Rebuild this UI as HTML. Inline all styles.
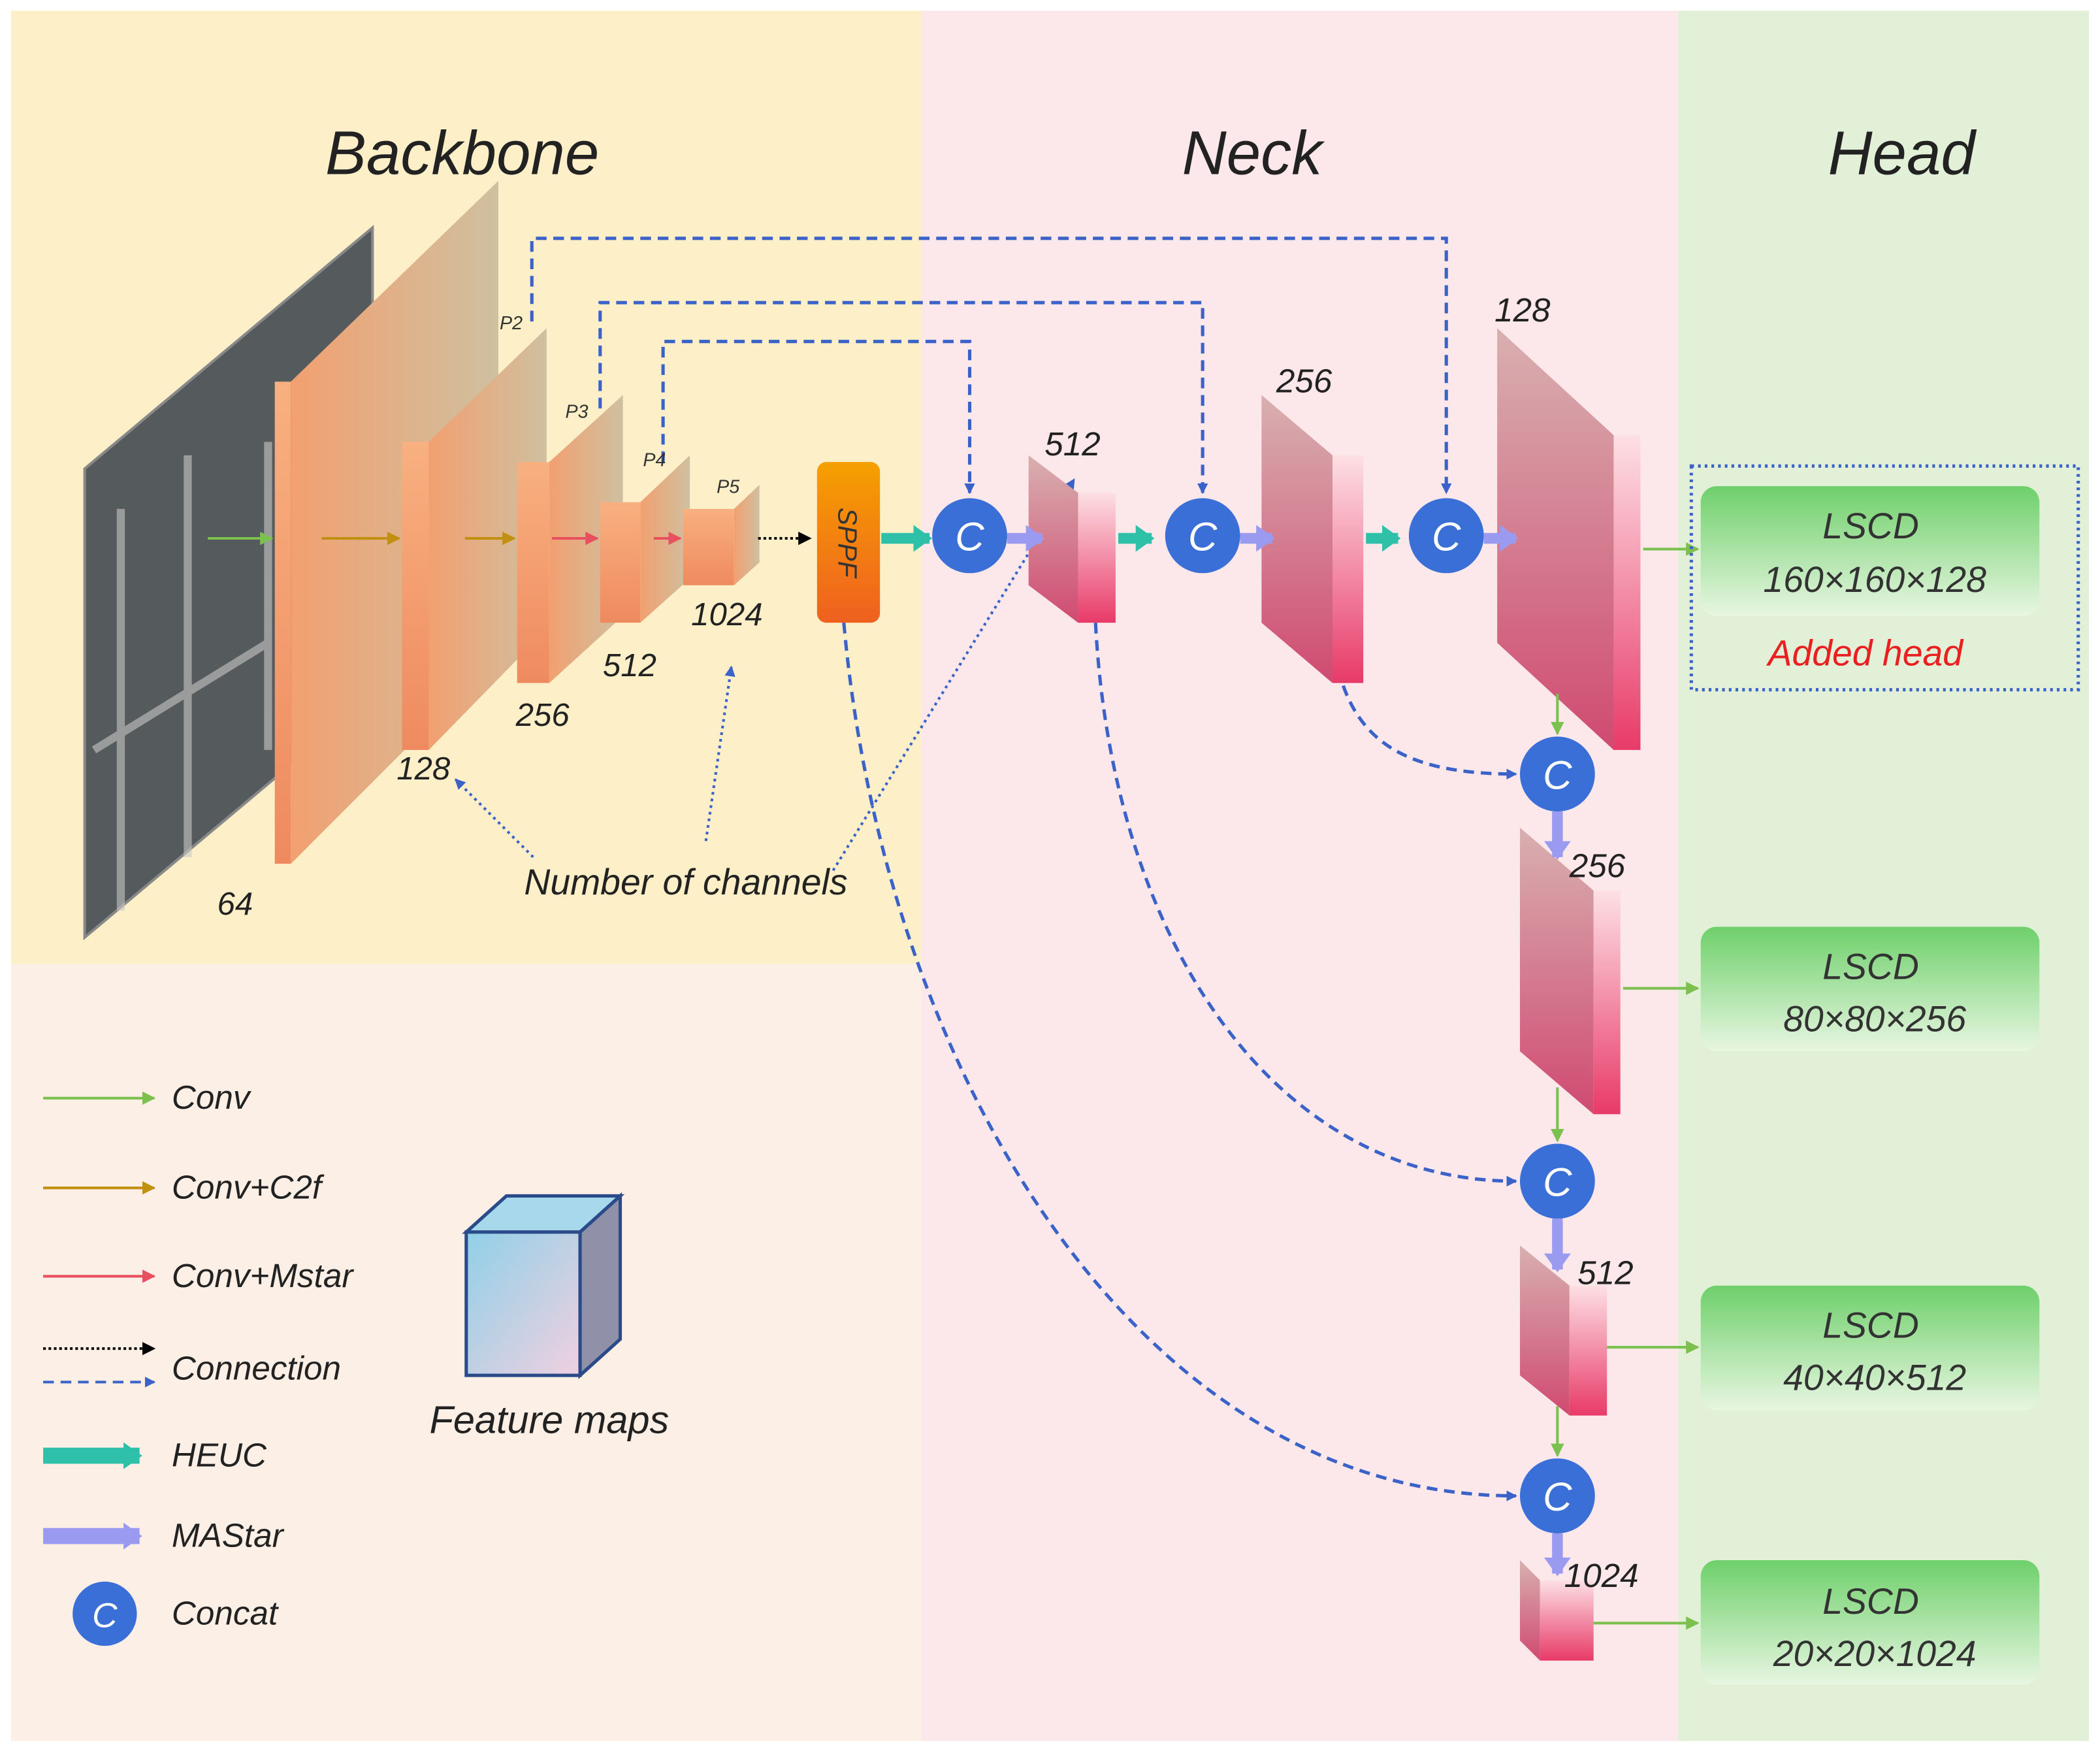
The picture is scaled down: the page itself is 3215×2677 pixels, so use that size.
<!DOCTYPE html>
<html><head><meta charset="utf-8"><style>html,body{margin:0;padding:0;background:#fff}svg{display:block}text{font-family:"Liberation Sans",sans-serif;font-style:italic}</style></head><body>
<svg width="3215" height="2677" viewBox="0 0 1568 1306" xmlns="http://www.w3.org/2000/svg">
<defs>
<linearGradient id="bb" x1="0" y1="0" x2="1" y2="0"><stop offset="0" stop-color="#f2a070"/><stop offset="1" stop-color="#cfc0a0"/></linearGradient>
<linearGradient id="bf" x1="0" y1="0" x2="0" y2="1"><stop offset="0" stop-color="#f8b080"/><stop offset="1" stop-color="#ef8a60"/></linearGradient>
<linearGradient id="nk" x1="0" y1="0" x2="0" y2="1"><stop offset="0" stop-color="#d8b0b0"/><stop offset="1" stop-color="#d04a70"/></linearGradient>
<linearGradient id="nf" x1="0" y1="0" x2="0" y2="1"><stop offset="0" stop-color="#fde0e4"/><stop offset="1" stop-color="#e83a68"/></linearGradient>
<linearGradient id="sp" x1="0" y1="0" x2="0" y2="1"><stop offset="0" stop-color="#f5a000"/><stop offset="1" stop-color="#f06020"/></linearGradient>
<linearGradient id="ls" x1="0" y1="0" x2="0" y2="1"><stop offset="0" stop-color="#6ed06a"/><stop offset="1" stop-color="#e8f6e2"/></linearGradient>
<linearGradient id="cb" x1="0" y1="0" x2="1" y2="1"><stop offset="0" stop-color="#90d0e8"/><stop offset="1" stop-color="#f0d0e0"/></linearGradient>
<marker id="ab" markerWidth="8" markerHeight="8" refX="7" refY="4" orient="auto" markerUnits="userSpaceOnUse"><path d="M0,0 L8,4 L0,8z" fill="#3a62c8"/></marker>
<marker id="ag" markerWidth="10" markerHeight="10" refX="9" refY="5" orient="auto" markerUnits="userSpaceOnUse"><path d="M0,0 L10,5 L0,10z" fill="#7cc050"/></marker>
<marker id="ao" markerWidth="10" markerHeight="10" refX="9" refY="5" orient="auto" markerUnits="userSpaceOnUse"><path d="M0,0 L10,5 L0,10z" fill="#c09010"/></marker>
<marker id="ar" markerWidth="10" markerHeight="10" refX="9" refY="5" orient="auto" markerUnits="userSpaceOnUse"><path d="M0,0 L10,5 L0,10z" fill="#e85060"/></marker>
<marker id="ak" markerWidth="10" markerHeight="10" refX="9" refY="5" orient="auto" markerUnits="userSpaceOnUse"><path d="M0,0 L10,5 L0,10z" fill="#000"/></marker>
<marker id="at" markerWidth="14" markerHeight="20" refX="12" refY="10" orient="auto" markerUnits="userSpaceOnUse"><path d="M0,0 L14,10 L0,20z" fill="#2ec0a8"/></marker>
<marker id="ap" markerWidth="14" markerHeight="20" refX="12" refY="10" orient="auto" markerUnits="userSpaceOnUse"><path d="M0,0 L14,10 L0,20z" fill="#9a9af0"/></marker>
</defs>
<rect width="1568" height="1306" fill="#fff"/>
<rect x="8" y="8" width="680" height="712" fill="#fdf0c8"/>
<rect x="8" y="720" width="680" height="580" fill="#fcefe6"/>
<rect x="688" y="8" width="565" height="1292" fill="#fce8ea"/>
<rect x="1253" y="8" width="307" height="1292" fill="#e3f0d8"/>
<text x="345" y="130" font-size="46" text-anchor="middle" fill="#222">Backbone</text>
<text x="935" y="130" font-size="46" text-anchor="middle" fill="#222">Neck</text>
<text x="1420" y="130" font-size="46" text-anchor="middle" fill="#222">Head</text>
<!-- dashed top lines -->
<g fill="none" stroke="#3a62c8" stroke-width="2.5" stroke-dasharray="8,5">
<path d="M397,240 V178 H1080 V368" marker-end="url(#ab)"/>
<path d="M448,305 V226 H898 V368" marker-end="url(#ab)"/>
<path d="M495,345 V255 H724 V368" marker-end="url(#ab)"/>
<path d="M1003,512 C1020,560 1060,578 1132,578" marker-end="url(#ab)"/>
<path d="M818,465 C830,700 950,882 1132,882" marker-end="url(#ab)"/>
<path d="M630,465 C660,800 850,1117 1132,1117" marker-end="url(#ab)"/>
</g>
<!-- image -->
<polygon points="63,350 278,170 278,520 63,700" fill="#555a5c"/>
<polygon points="63,350 278,170 278,520 63,700" fill="none" stroke="#888" stroke-width="2"/>
<g stroke="#c8c8c8" stroke-width="6" opacity="0.6"><line x1="90" y1="380" x2="90" y2="680"/><line x1="140" y1="340" x2="140" y2="640"/><line x1="70" y1="560" x2="200" y2="480"/><line x1="200" y1="330" x2="200" y2="560"/></g>
<!-- backbone maps -->
<polygon points="217,285 372,135 372,490 217,645" fill="url(#bb)"/><rect x="205" y="285" width="12" height="360" fill="url(#bf)"/>
<polygon points="320,330 408,245 408,470 320,560" fill="url(#bb)"/><rect x="300" y="330" width="20" height="230" fill="url(#bf)"/>
<polygon points="410,345 465,295 465,460 410,510" fill="url(#bb)"/><rect x="386" y="345" width="24" height="165" fill="url(#bf)"/>
<polygon points="478,375 515,340 515,432 478,465" fill="url(#bb)"/><rect x="448" y="375" width="30" height="90" fill="url(#bf)"/>
<polygon points="548,380 567,362 567,420 548,437" fill="url(#bb)"/><rect x="510" y="380" width="38" height="57" fill="url(#bf)"/>
<g font-size="14" fill="#333"><text x="373" y="246">P2</text><text x="422" y="312">P3</text><text x="480" y="348">P4</text><text x="535" y="368">P5</text></g>
<g stroke-width="2" fill="none">
<line x1="155" y1="402" x2="203" y2="402" stroke="#7cc050" marker-end="url(#ag)"/>
<line x1="240" y1="402" x2="298" y2="402" stroke="#c09010" marker-end="url(#ao)"/>
<line x1="347" y1="402" x2="384" y2="402" stroke="#c09010" marker-end="url(#ao)"/>
<line x1="412" y1="402" x2="446" y2="402" stroke="#e85060" marker-end="url(#ar)"/>
<line x1="488" y1="402" x2="508" y2="402" stroke="#e85060" marker-end="url(#ar)"/>
<line x1="566" y1="402" x2="605" y2="402" stroke="#000" stroke-dasharray="2,2" marker-end="url(#ak)"/>
</g>
<rect x="610" y="345" width="47" height="120" rx="7" fill="url(#sp)"/>
<text x="633" y="405" font-size="20" fill="#333" text-anchor="middle" transform="rotate(90 633 405)" dy="7">SPPF</text>
<g font-size="24" fill="#222"><text x="162" y="683">64</text><text x="296" y="582">128</text><text x="385" y="542">256</text><text x="450" y="505">512</text><text x="516" y="467">1024</text></g>
<g fill="none" stroke="#3a62c8" stroke-width="2" stroke-dasharray="2,3">
<path d="M398,640 L340,582" marker-end="url(#ab)"/>
<path d="M527,628 L546,498" marker-end="url(#ab)"/>
<path d="M622,650 L802,358" marker-end="url(#ab)"/>
</g>
<text x="512" y="668" font-size="27" text-anchor="middle" fill="#222">Number of channels</text>
<!-- neck -->
<line x1="658" y1="402" x2="694" y2="402" stroke="#2ec0a8" stroke-width="8" marker-end="url(#at)"/>
<polygon points="768,340 805,368 805,465 768,437" fill="url(#nk)"/><rect x="805" y="368" width="28" height="97" fill="url(#nf)"/>
<polygon points="942,295 995,340 995,510 942,465" fill="url(#nk)"/><rect x="995" y="340" width="23" height="170" fill="url(#nf)"/>
<polygon points="1118,245 1205,325 1205,560 1118,480" fill="url(#nk)"/><rect x="1205" y="325" width="20" height="235" fill="url(#nf)"/>
<polygon points="1135,618 1190,665 1190,832 1135,785" fill="url(#nk)"/><rect x="1190" y="665" width="20" height="167" fill="url(#nf)"/>
<polygon points="1135,930 1172,960 1172,1057 1135,1027" fill="url(#nk)"/><rect x="1172" y="960" width="28" height="97" fill="url(#nf)"/>
<polygon points="1135,1165 1150,1180 1150,1240 1135,1225" fill="url(#nk)"/><rect x="1150" y="1180" width="40" height="60" fill="url(#nf)"/>
<g stroke-width="8">
<line x1="752" y1="402" x2="778" y2="402" stroke="#9a9af0" marker-end="url(#ap)"/>
<line x1="835" y1="402" x2="860" y2="402" stroke="#2ec0a8" marker-end="url(#at)"/>
<line x1="926" y1="402" x2="950" y2="402" stroke="#9a9af0" marker-end="url(#ap)"/>
<line x1="1020" y1="402" x2="1044" y2="402" stroke="#2ec0a8" marker-end="url(#at)"/>
<line x1="1108" y1="402" x2="1132" y2="402" stroke="#9a9af0" marker-end="url(#ap)"/>
<line x1="1163" y1="606" x2="1163" y2="640" stroke="#9a9af0" marker-end="url(#ap)"/>
<line x1="1163" y1="910" x2="1163" y2="948" stroke="#9a9af0" marker-end="url(#ap)"/>
<line x1="1163" y1="1145" x2="1163" y2="1175" stroke="#9a9af0" marker-end="url(#ap)"/>
</g>
<g stroke="#7cc050" stroke-width="2">
<line x1="1163" y1="518" x2="1163" y2="548" marker-end="url(#ag)"/>
<line x1="1163" y1="812" x2="1163" y2="852" marker-end="url(#ag)"/>
<line x1="1163" y1="1050" x2="1163" y2="1087" marker-end="url(#ag)"/>
<line x1="1227" y1="410" x2="1268" y2="410" marker-end="url(#ag)"/>
<line x1="1212" y1="738" x2="1268" y2="738" marker-end="url(#ag)"/>
<line x1="1200" y1="1006" x2="1268" y2="1006" marker-end="url(#ag)"/>
<line x1="1190" y1="1212" x2="1268" y2="1212" marker-end="url(#ag)"/>
</g>
<g fill="#3a6fd8"><circle cx="724" cy="400" r="28"/><circle cx="898" cy="400" r="28"/><circle cx="1080" cy="400" r="28"/><circle cx="1163" cy="578" r="28"/><circle cx="1163" cy="882" r="28"/><circle cx="1163" cy="1117" r="28"/></g>
<g font-size="30" fill="#fff" text-anchor="middle"><text x="724" y="411">C</text><text x="898" y="411">C</text><text x="1080" y="411">C</text><text x="1163" y="589">C</text><text x="1163" y="893">C</text><text x="1163" y="1128">C</text></g>
<g font-size="25" fill="#222"><text x="780" y="340">512</text><text x="953" y="293">256</text><text x="1116" y="240">128</text><text x="1172" y="655">256</text><text x="1178" y="959">512</text><text x="1168" y="1185">1024</text></g>
<!-- head -->
<rect x="1263" y="348" width="289" height="167" fill="none" stroke="#3a62c8" stroke-width="2.5" stroke-dasharray="2,3"/>
<g fill="url(#ls)"><rect x="1270" y="363" width="253" height="97" rx="12"/><rect x="1270" y="692" width="253" height="93" rx="12"/><rect x="1270" y="960" width="253" height="93" rx="12"/><rect x="1270" y="1165" width="253" height="93" rx="12"/></g>
<g font-size="27" fill="#333" text-anchor="middle">
<text x="1397" y="402">LSCD</text><text x="1400" y="442">160×160×128</text>
<text x="1397" y="731">LSCD</text><text x="1400" y="770">80×80×256</text>
<text x="1397" y="999">LSCD</text><text x="1400" y="1038">40×40×512</text>
<text x="1397" y="1205">LSCD</text><text x="1400" y="1244">20×20×1024</text>
<text x="1393" y="497" fill="#e82020">Added head</text>
</g>
<!-- legend -->
<g stroke-width="2">
<line x1="32" y1="820" x2="115" y2="820" stroke="#7cc050" marker-end="url(#ag)"/>
<line x1="32" y1="887" x2="115" y2="887" stroke="#c09010" marker-end="url(#ao)"/>
<line x1="32" y1="953" x2="115" y2="953" stroke="#e85060" marker-end="url(#ar)"/>
<line x1="32" y1="1007" x2="115" y2="1007" stroke="#000" stroke-dasharray="2,2" marker-end="url(#ak)"/>
<line x1="32" y1="1032" x2="115" y2="1032" stroke="#3a62c8" stroke-dasharray="8,5" marker-end="url(#ab)"/>
</g>
<line x1="32" y1="1087" x2="104" y2="1087" stroke="#2ec0a8" stroke-width="12" marker-end="url(#at)"/>
<line x1="32" y1="1147" x2="104" y2="1147" stroke="#9a9af0" stroke-width="12" marker-end="url(#ap)"/>
<circle cx="78" cy="1205" r="24" fill="#3a6fd8"/><text x="78" y="1215" font-size="26" fill="#fff" text-anchor="middle">C</text>
<g font-size="25" fill="#222"><text x="128" y="828">Conv</text><text x="128" y="895">Conv+C2f</text><text x="128" y="961">Conv+Mstar</text><text x="128" y="1030">Connection</text><text x="128" y="1095">HEUC</text><text x="128" y="1155">MAStar</text><text x="128" y="1213">Concat</text></g>
<polygon points="348,920 378,893 463,893 433,920" fill="#a8d8ec" stroke="#2a4a8a" stroke-width="2.5"/>
<polygon points="433,920 463,893 463,1000 433,1027" fill="#9090a8" stroke="#2a4a8a" stroke-width="2.5"/>
<rect x="348" y="920" width="85" height="107" fill="url(#cb)" stroke="#2a4a8a" stroke-width="2.5"/>
<text x="410" y="1070" font-size="29" text-anchor="middle" fill="#222">Feature maps</text>
</svg>
</body></html>
